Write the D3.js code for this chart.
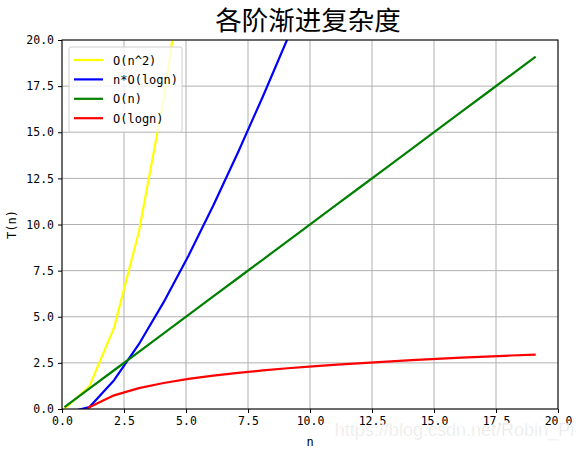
<!DOCTYPE html>
<html>
<head>
<meta charset="utf-8">
<script src="https://cdn.jsdelivr.net/npm/d3@7"></script>
<style>
  body { margin: 0; background: #fff; }
  svg { display: block; }
</style>
</head>
<body>
<svg id="chart" width="576" height="450"></svg>
<script>
// values
const nVals = [0.1, 1.1, 2.1, 3.1, 4.1, 5.1, 6.1, 7.1, 8.1, 9.1, 10.1, 11.1, 12.1, 13.1, 14.1, 15.1, 16.1, 17.1, 18.1, 19.1];
const squareVals = [0.01, 1.21, 4.41, 9.61, 16.81, 26.01];
const nlognVals = [-0.23, 0.1, 1.56, 3.51, 5.79, 8.31, 11.03, 13.92, 16.94, 20.09, 23.37];
const linearVals = [0.1, 1.1, 2.1, 3.1, 4.1, 5.1, 6.1, 7.1, 8.1, 9.1, 10.1, 11.1, 12.1, 13.1, 14.1, 15.1, 16.1, 17.1, 18.1, 19.1];
const logVals = [-2.3, 0.1, 0.74, 1.13, 1.41, 1.63, 1.81, 1.96, 2.09, 2.21, 2.31, 2.41, 2.49, 2.57, 2.65, 2.72, 2.78, 2.84, 2.9, 2.95];

const seriesNames = ['O(n^2)', 'n*O(logn)', 'O(n)', 'O(logn)'];
const seriesColors = ['yellow', 'blue', 'green', 'red'];
const seriesVals = [squareVals, nlognVals, linearVals, logVals];

const xTicks = [0, 2.5, 5, 7.5, 10, 12.5, 15, 17.5, 20];
const yTicks = [0, 2.5, 5, 7.5, 10, 12.5, 15, 17.5, 20];

const margin = {left: 62, right: 18, top: 40, bottom: 41};
const W = 576, H = 450;
const svg = d3.select('#chart');
const tickFont = '"DejaVu Sans Mono", "Liberation Mono", monospace';

const x = d3.scaleLinear().domain([0, 20]).range([margin.left, W - margin.right]);
const y = d3.scaleLinear().domain([0, 20]).range([H - margin.bottom, margin.top]);

svg.append('defs').append('clipPath').attr('id', 'plotclip')
  .append('rect')
  .attr('x', x(0)).attr('y', y(20))
  .attr('width', x(20) - x(0)).attr('height', y(0) - y(20));

// grid
const grid = svg.append('g');
grid.selectAll('.gx').data(xTicks).join('line')
  .attr('x1', d => x(d)).attr('x2', d => x(d))
  .attr('y1', y(0)).attr('y2', y(20))
  .attr('stroke', '#b0b0b0').attr('stroke-width', 1);
grid.selectAll('.gy').data(yTicks).join('line')
  .attr('x1', x(0)).attr('x2', x(20))
  .attr('y1', d => y(d)).attr('y2', d => y(d))
  .attr('stroke', '#b0b0b0').attr('stroke-width', 1);

// lines
const lineGen = d3.line().x((d, i) => x(nVals[i])).y(d => y(d));
svg.append('g').attr('clip-path', 'url(#plotclip)')
  .selectAll('path').data(seriesVals).join('path')
  .attr('d', d => lineGen(d))
  .attr('fill', 'none')
  .attr('stroke', (d, i) => seriesColors[i])
  .attr('stroke-width', 2.2)
  .attr('stroke-linejoin', 'round');

// axes
const xAxis = svg.append('g').attr('transform', `translate(0,${y(0)})`)
  .call(d3.axisBottom(x).tickValues(xTicks).tickFormat(d3.format('.1f')).tickSizeOuter(0).tickSize(4).tickPadding(4));
const yAxis = svg.append('g').attr('transform', `translate(${x(0)},0)`)
  .call(d3.axisLeft(y).tickValues(yTicks).tickFormat(d3.format('.1f')).tickSizeOuter(0).tickSize(4).tickPadding(4));
[xAxis, yAxis].forEach(a => {
  a.select('.domain').remove();
  a.selectAll('text').attr('font-family', tickFont).attr('font-size', 11.5).attr('fill', '#000');
  a.selectAll('line').attr('stroke', '#000');
});

// frame
svg.append('rect')
  .attr('x', x(0)).attr('y', y(20))
  .attr('width', x(20) - x(0)).attr('height', y(0) - y(20))
  .attr('fill', 'none').attr('stroke', '#000').attr('stroke-width', 1);

// labels
svg.append('text').attr('x', (x(0) + x(20)) / 2 - 2).attr('y', 30)
  .attr('text-anchor', 'middle')
  .attr('font-family', '"Noto Sans CJK SC", sans-serif')
  .attr('font-size', 26.5).text('各阶渐进复杂度');
svg.append('text').attr('x', (x(0) + x(20)) / 2).attr('y', 446)
  .attr('text-anchor', 'middle').attr('font-family', tickFont)
  .attr('font-size', 12).text('n');
svg.append('text')
  .attr('transform', `translate(16,${(y(0) + y(20)) / 2}) rotate(-90)`)
  .attr('text-anchor', 'middle').attr('font-family', tickFont)
  .attr('font-size', 12).text('T(n)');

// legend
const legend = svg.append('g').attr('transform', 'translate(69,47)');
legend.append('rect').attr('width', 113).attr('height', 85).attr('rx', 2)
  .attr('fill', 'rgba(255,255,255,0.8)').attr('stroke', '#d0d0d0');
const items = legend.selectAll('.item').data(seriesNames).join('g')
  .attr('transform', (d, i) => `translate(0,${13 + i * 19.4})`);
items.append('line').attr('x1', 5).attr('x2', 34)
  .attr('stroke', (d, i) => seriesColors[i]).attr('stroke-width', 2.2);
items.append('text').attr('x', 44).attr('y', 4.5)
  .attr('font-family', tickFont).attr('font-size', 12).text(d => d);

// watermark
svg.append('text').attr('x', 574).attr('y', 436)
  .attr('text-anchor', 'end')
  .attr('font-family', '"Liberation Sans", Arial, sans-serif')
  .attr('font-size', 18).attr('fill', '#e2e2e2')
  .attr('stroke', '#fff').attr('stroke-width', 0.6)
  .text('https://blog.csdn.net/Robin_Pi');
</script>
</body>
</html>
